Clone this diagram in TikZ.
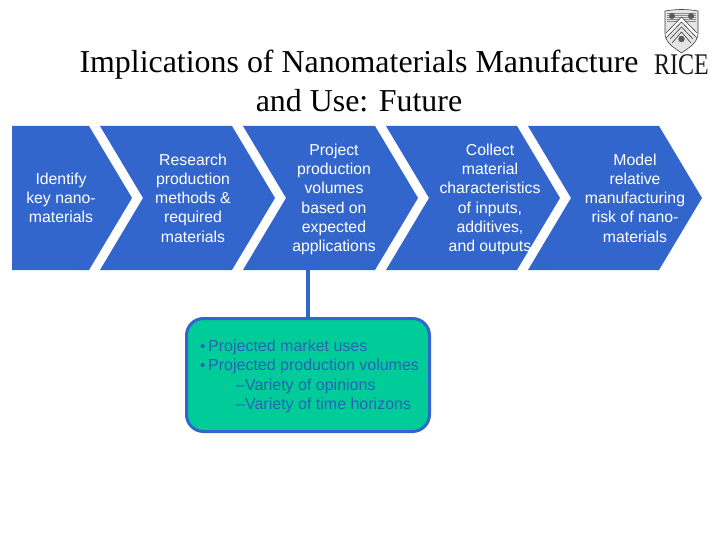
\documentclass[tikz,border=0pt]{standalone}
\usepackage{fontspec}
\setmainfont{Liberation Sans}
\newfontfamily\serifface{Liberation Serif}
\definecolor{chevblue}{HTML}{3366CC}
\definecolor{boxgreen}{HTML}{00CC99}
\definecolor{boxtextblue}{HTML}{2A62B8}
\tikzset{
  chev/.style={fill=chevblue,draw=none},
  chevtext/.style={text=white,align=center,font=\fontsize{15.8}{19.3}\selectfont,inner sep=0pt},
  titletext/.style={align=center,font=\serifface\fontsize{31.9}{39}\selectfont,inner sep=0pt},
  notebox/.style={draw=chevblue,line width=3pt,fill=boxgreen,rounded corners=17pt,minimum width=243pt,minimum height=113pt,inner sep=0pt},
  notetext/.style={text=boxtextblue,align=left,font=\fontsize{16}{19.4}\selectfont,inner sep=0pt,anchor=north west},
  link/.style={draw=chevblue,line width=3.5pt},
  crest/.style={draw=black!75,line width=.6pt}
}
\begin{document}
\begin{tikzpicture}[x=1pt,y=-1pt]
\useasboundingbox (0,0) rectangle (720,540);
\fill[white] (0,0) rectangle (720,540);
\node[titletext] (title) at (359,81) {Implications of Nanomaterials Manufacture\\and Use: Future};
% chevrons
\fill[chev] (12,126) -- (89,126) -- (132,198) -- (89,270) -- (12,270) -- cycle;
\fill[chev] (100,126) -- (232,126) -- (275,198) -- (232,270) -- (100,270) -- (143,198) -- cycle;
\fill[chev] (243,126) -- (375,126) -- (418,198) -- (375,270) -- (243,270) -- (286,198) -- cycle;
\fill[chev] (386,126) -- (517,126) -- (560,198) -- (517,270) -- (386,270) -- (429,198) -- cycle;
\fill[chev] (528,126) -- (659,126) -- (702,198) -- (659,270) -- (528,270) -- (571,198) -- cycle;
\coordinate (c3bottom) at (308,270);
\node[chevtext] (c1) at (61,198) {Identify\\key nano-\\materials};
\node[chevtext] (c2) at (193,198) {Research\\production\\methods \&\\required\\materials};
\node[chevtext] (c3) at (334,199.5) {Project\\production\\volumes\\based on\\expected\\applications};
\node[chevtext] (c4) at (490,199.5) {Collect\\material\\characteristics\\of inputs,\\additives,\\and outputs};
\node[chevtext] (c5) at (635,198) {Model\\relative\\manufacturing\\risk of nano-\\materials};
% note box
\node[notebox] (note) at (308,375) {};
\draw[link] (c3bottom) -- (note.north);
\node[notetext] (notelines) at (200,339.5) {\makebox[8pt][l]{\fontsize{15}{15}\selectfont •}Projected market uses\\
\makebox[8pt][l]{\fontsize{15}{15}\selectfont •}Projected production volumes\\
\hspace{36pt}–Variety of opinions\\
\hspace{36pt}–Variety of time horizons};
% logo
\draw[crest,fill=black!10] (665,11) .. controls (676,9) and (687,9) .. (698,11) -- (698,34) .. controls (697,44) and (688,48) .. (681.5,53) .. controls (675,48) and (666,44) .. (665,34) -- cycle;
\foreach \ly in {13,15,17,19,21} {\draw[black!45,line width=.4pt] (667,\ly) -- (696,\ly);}
\fill[black!65] (672,16) circle (3pt) (691,16) circle (3pt) (681.5,39) circle (3.2pt);
\fill[white] (666,33) -- (681.5,17) -- (697,33) -- (697,38) -- (681.5,22) -- (666,38) -- cycle;
\draw[crest] (666,33) -- (681.5,17) -- (697,33);
\draw[crest] (666,38) -- (681.5,22) -- (697,38);
\draw[crest] (670,39) -- (681.5,27) -- (693,39);
\draw[crest] (672,43) -- (681.5,32) -- (691,43);
\node[inner sep=0pt,font=\serifface\fontsize{24}{24}\selectfont,text=black!90] (rice) at (681.5,65) {\scalebox{1}[1.25]{RICE}};
\end{tikzpicture}
\end{document}
